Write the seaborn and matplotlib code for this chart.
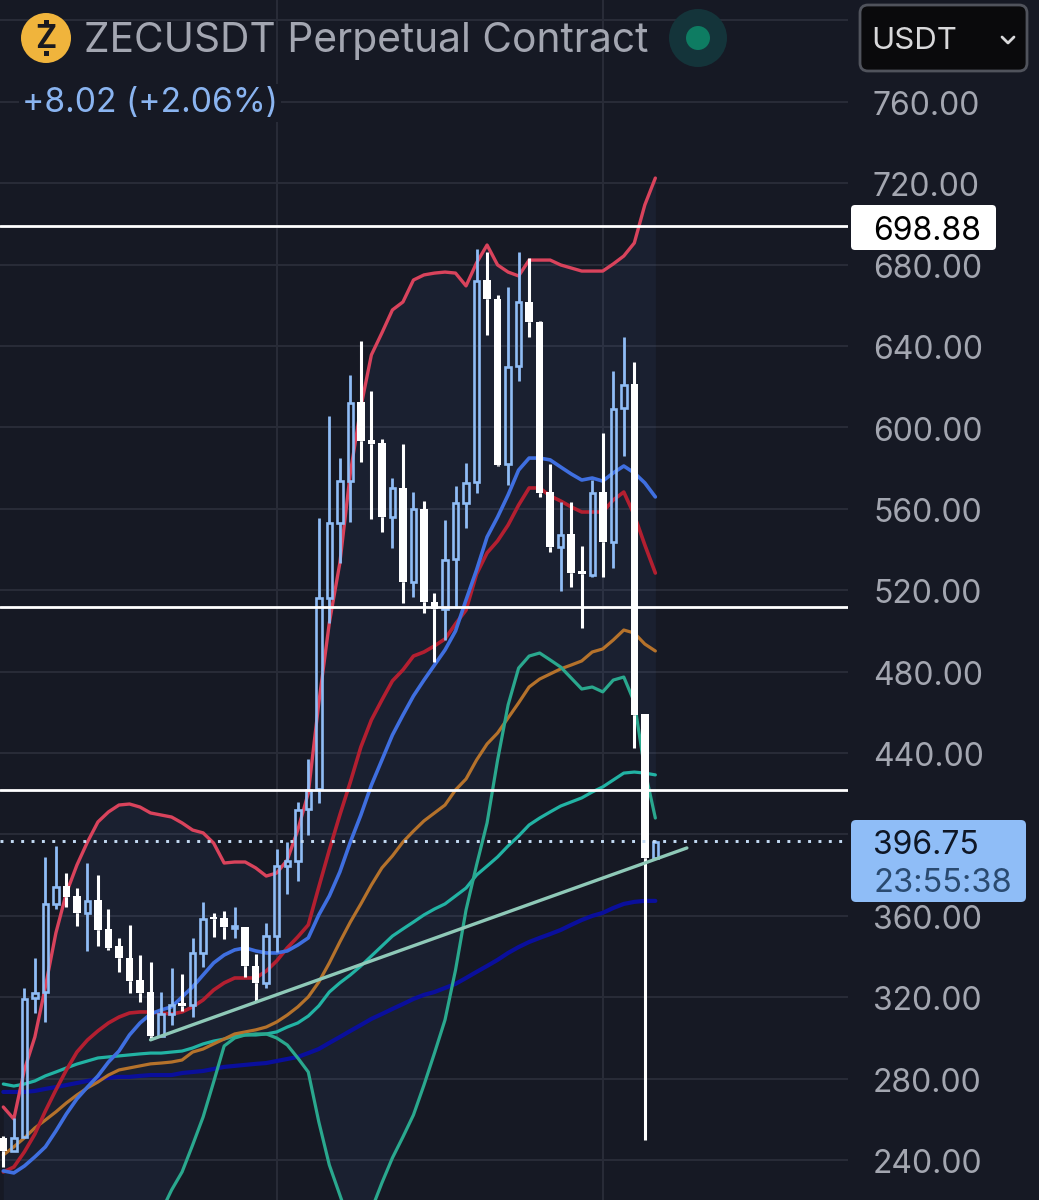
import numpy as np
import seaborn as sns
import matplotlib
matplotlib.use('Agg')
import matplotlib.pyplot as plt
from matplotlib.patches import FancyBboxPatch, Circle, Rectangle
from matplotlib.transforms import ScaledTranslation

# daily candles
opens = [250.8, 244.4, 251.3, 319.6, 322.5, 365.8, 374.6, 369.7, 361.4, 367.7, 353.5, 345.1, 339.2, 328.4, 322.5, 300.9,
         311.7, 317.1, 316.1, 341.7, 359.4, 358.9, 354.0, 354.5, 335.3, 327.0, 350.0, 384.4, 386.9, 412.5, 422.3, 516.1,
         553.0, 573.6, 612.5, 593.8, 592.3, 556.0, 570.2, 524.0, 559.9, 514.2, 510.7, 535.3, 562.8, 573.2, 672.4, 663.1,
         582.0, 630.1, 661.6, 651.8, 568.2, 541.2, 547.6, 529.4, 527.4, 568.2, 543.7, 609.5, 621.3, 459.1, 388.4]
highs = [251.8, 260.6, 324.5, 339.2, 388.9, 394.3, 381.0, 373.6, 385.9, 380.0, 363.3, 349.1, 355.5, 340.7, 337.3, 322.5,
         334.3, 331.4, 349.1, 366.8, 361.4, 362.3, 364.3, 354.5, 341.2, 356.4, 392.8, 396.2, 415.9, 437.0, 555.5, 605.6,
         584.9, 625.7, 642.4, 617.9, 594.3, 575.1, 591.8, 568.2, 563.8, 518.6, 554.5, 571.2, 582.5, 687.6, 686.2, 665.0,
         669.0, 686.2, 683.2, 652.3, 582.0, 563.3, 563.3, 541.7, 574.1, 597.2, 627.7, 644.4, 632.1, 459.1, 397.2]
lows = [236.5, 244.4, 251.3, 312.2, 307.8, 363.3, 364.3, 355.0, 342.7, 345.1, 343.2, 332.4, 322.0, 317.6, 299.4, 300.9,
        306.3, 313.2, 310.2, 334.8, 349.6, 348.6, 349.1, 329.9, 317.6, 324.5, 342.2, 370.7, 377.1, 399.7, 415.4, 503.9,
        533.3, 553.5, 583.0, 555.0, 548.6, 540.7, 513.7, 516.6, 508.8, 484.7, 495.5, 511.2, 550.5, 567.7, 645.4, 581.0,
        571.7, 622.8, 644.4, 565.8, 538.7, 519.6, 521.6, 501.4, 526.5, 526.5, 530.9, 585.9, 442.4, 249.8, 388.4]
closes = [244.4, 250.8, 319.1, 322.0, 365.8, 374.1, 369.2, 361.4, 367.2, 353.0, 344.2, 339.2, 327.9, 322.0, 300.9, 311.7,
          316.1, 315.7, 341.7, 358.4, 358.4, 354.5, 355.0, 335.3, 327.0, 350.0, 384.4, 386.9, 412.0, 421.8, 516.1, 553.0,
          573.6, 612.0, 593.3, 591.8, 556.0, 570.2, 524.0, 559.9, 514.2, 510.7, 534.8, 562.8, 572.7, 671.9, 663.1, 581.5,
          629.7, 661.6, 651.8, 567.7, 541.2, 547.1, 528.4, 527.9, 567.7, 543.7, 609.0, 620.8, 458.6, 388.4, 396.2]

# indicator lines
upper_band = [266.0, 260.1, 284.2, 300.4, 325.0, 351.5, 371.2, 384.9, 396.2, 406.1, 411.0, 414.4, 414.9, 413.4, 410.5, 409.5,
              408.5, 405.6, 402.1, 400.7, 395.7, 385.9, 386.4, 386.4, 383.5, 379.5, 381.0, 387.4, 402.1, 420.3, 464.6, 503.9,
              533.3, 577.6, 610.0, 635.6, 646.4, 657.7, 661.6, 672.4, 674.9, 675.8, 676.3, 675.8, 669.5, 680.8, 689.6, 679.8,
              676.3, 674.4, 682.2, 682.2, 682.2, 679.8, 678.3, 676.8, 676.8, 676.8, 680.3, 684.2, 690.6, 709.3, 722.5]
# lower band only comes into the picture from candle 15 on
lower_start = 15
lower_band = [214.4, 225.2, 234.1, 247.3, 261.1, 278.3, 296.0, 299.9, 301.4, 301.9, 301.9, 299.9, 296.5, 290.1, 283.2, 258.7,
              237.5, 222.8, 208.0, 203.1, 215.4, 228.7, 241.0, 251.3, 262.1, 276.8, 292.5, 308.8, 333.3, 362.8, 384.9, 405.6,
              436.5, 463.6, 481.7, 487.6, 489.1, 485.7, 482.2, 476.8, 471.4, 472.4, 470.0, 475.8, 477.3, 465.0, 431.6, 408.0]
ma_red = [234.1, 236.5, 243.9, 252.7, 264.0, 274.4, 284.2, 293.0, 298.9, 303.4, 307.3, 310.2, 312.2, 312.7, 312.7, 312.2,
          311.7, 312.7, 315.2, 318.6, 323.5, 327.0, 329.4, 329.4, 329.4, 332.8, 337.8, 344.2, 349.6, 355.5, 374.1, 392.3,
          409.5, 425.7, 442.9, 456.2, 466.0, 475.4, 480.8, 487.6, 489.6, 492.6, 496.0, 503.4, 510.2, 527.9, 538.3, 544.2,
          552.0, 561.8, 570.2, 570.2, 566.3, 563.8, 560.9, 558.4, 558.4, 558.4, 564.3, 568.2, 556.9, 542.2, 528.4]
ma_blue = [234.6, 233.6, 237.0, 241.5, 246.4, 254.2, 262.6, 270.0, 275.8, 281.3, 288.1, 293.5, 301.4, 307.3, 311.7, 313.7,
           315.2, 320.1, 325.0, 330.9, 336.8, 340.7, 343.2, 344.2, 342.7, 341.7, 341.7, 342.7, 345.6, 349.1, 360.4, 369.7,
           381.5, 396.2, 409.5, 424.2, 436.5, 448.8, 458.6, 468.0, 475.8, 483.2, 490.6, 499.9, 515.2, 529.9, 546.1, 555.9,
           566.8, 579.0, 584.9, 584.9, 584.0, 580.5, 577.1, 574.1, 575.1, 573.6, 577.6, 581.0, 577.6, 572.7, 565.8]
ma_orange = [242.4, 246.4, 250.8, 255.7, 259.6, 263.6, 268.0, 271.9, 275.4, 278.3, 281.7, 284.2, 285.2, 286.2, 287.2, 287.6,
             288.1, 289.1, 293.0, 294.5, 297.0, 299.4, 301.9, 302.9, 303.9, 305.3, 307.8, 311.2, 315.2, 320.1, 327.4, 336.8,
             347.1, 356.9, 365.8, 375.1, 383.5, 389.4, 396.2, 401.6, 406.6, 410.5, 414.4, 421.8, 427.2, 436.5, 444.4, 449.8,
             457.2, 464.6, 472.4, 476.3, 478.8, 481.3, 483.2, 485.2, 489.6, 491.1, 495.5, 500.4, 498.9, 493.5, 490.1]
ma_cyan = [277.3, 276.3, 277.3, 278.8, 281.3, 283.2, 285.2, 287.1, 288.6, 290.1, 290.6, 291.1, 291.6, 292.1, 292.5, 292.5,
           293.0, 293.5, 295.0, 297.0, 298.4, 299.4, 300.9, 301.4, 301.4, 301.9, 302.9, 305.3, 307.3, 310.7, 315.7, 322.5,
           327.0, 330.9, 335.3, 340.2, 345.1, 350.0, 353.5, 356.9, 360.4, 363.3, 365.8, 369.7, 373.6, 380.0, 384.4, 388.9,
           394.3, 399.2, 404.6, 408.0, 411.0, 413.9, 415.9, 417.9, 420.8, 423.3, 426.7, 430.1, 430.6, 430.1, 429.2]
ma_navy = [273.4, 273.4, 273.4, 273.9, 274.9, 275.8, 276.8, 277.8, 278.8, 279.8, 280.3, 280.8, 280.8, 281.3, 281.7, 281.7,
           281.7, 282.7, 283.2, 283.7, 284.7, 285.7, 286.2, 286.7, 287.2, 287.6, 288.6, 289.6, 290.6, 292.5, 294.5, 297.5,
           300.4, 303.4, 306.3, 309.3, 311.7, 314.2, 316.6, 319.1, 321.1, 322.5, 324.5, 326.5, 329.4, 332.4, 335.3, 338.3,
           341.7, 344.6, 347.1, 349.1, 351.0, 353.0, 355.5, 357.9, 359.9, 361.4, 363.8, 365.8, 366.8, 367.3, 367.3]

# hand drawn levels
levels = [698.88, 511.7, 421.8]
trend_x = [14, 65]
trend_y = [299.0, 393.3]
last_price = 396.75

ticks = list(range(240, 801, 40))
tick_labels = [f'{t}.00' if t not in (400, 800) else '' for t in ticks]
vlines_at = [26, 57]

BG = '#161924'
BLUE = '#8fbcf5'
FONT = 'Inter'

sns.set_theme(style='dark', rc={'axes.facecolor': BG, 'figure.facecolor': BG})
plt.rcParams['font.family'] = [FONT, 'DejaVu Sans']

fig = plt.figure(figsize=(10.39, 12), dpi=100)
ax = fig.add_axes([0, 0, 848 / 1039, 1])
ax.set_xlim(-0.314, 80.32)
ax.set_ylim(220.3, 810)

n = len(opens)
x = np.arange(n)
opens = np.array(opens)
closes = np.array(closes)
highs = np.array(highs)
lows = np.array(lows)

# band shading, below candle 15 the lower band is off the bottom of the chart
lower_full = np.r_[np.full(lower_start, 220.3), lower_band]
ax.fill_between(x, lower_full, upper_band, color='#5b8fe0', alpha=0.065, lw=0, zorder=1)

sns.lineplot(x=x, y=ma_navy, ax=ax, color='#0a0f9c', linewidth=3.0, zorder=2)
sns.lineplot(x=x, y=ma_cyan, ax=ax, color='#22b3a4', linewidth=2.3, zorder=2)
sns.lineplot(x=x, y=ma_orange, ax=ax, color='#b5722b', linewidth=2.3, zorder=2)
sns.lineplot(x=x[lower_start:], y=lower_band, ax=ax, color='#2aa88e', linewidth=2.3, zorder=2)
sns.lineplot(x=x, y=ma_red, ax=ax, color='#b31f30', linewidth=2.6, zorder=2)
sns.lineplot(x=x, y=ma_blue, ax=ax, color='#3f6fe0', linewidth=2.6, zorder=2)
sns.lineplot(x=x, y=upper_band, ax=ax, color='#d9435c', linewidth=2.4, zorder=2)

# candles, white filled for down days, blue hollow for up days
up = closes >= opens
top = np.maximum(opens, closes)
bot = np.minimum(opens, closes)
ax.vlines(x[~up], bot[~up], highs[~up], color='white', lw=2.2, zorder=3)
ax.vlines(x[~up], lows[~up], bot[~up], color='white', lw=2.2, zorder=3)
ax.bar(x[~up], top[~up] - bot[~up], bottom=bot[~up], width=0.72, color='white', lw=0, zorder=3)
ax.vlines(x[up], top[up], highs[up], color=BLUE, lw=2.0, zorder=3)
ax.vlines(x[up], lows[up], bot[up], color=BLUE, lw=2.0, zorder=3)
ax.bar(x[up], top[up] - bot[up], bottom=bot[up], width=0.52, facecolor='none', edgecolor=BLUE, lw=1.9, zorder=3)

for lvl in levels:
    ax.axhline(lvl, color='white', lw=2.0, zorder=4)
ax.axhline(last_price, color='#c5dcf5', lw=2.1, ls=(0, (1, 2.55)), zorder=4)
sns.lineplot(x=trend_x, y=trend_y, ax=ax, color='#8fc9b8', linewidth=2.4, zorder=5)

ax.set_yticks(ticks)
ax.set_yticklabels(tick_labels)
ax.set_xticks(vlines_at)
ax.set_xticklabels([])
ax.yaxis.tick_right()
ax.tick_params(axis='y', length=0, pad=18, labelsize=23, labelcolor='#a3a6b0')
ax.tick_params(axis='x', length=0)
ax.grid(True, color='#282b37', lw=1.5, zorder=0)
ax.set_axisbelow(True)
ax.set_xlabel('')
ax.set_ylabel('')
for s in ax.spines.values():
    s.set_visible(False)
# nudge tick labels down a pixel to sit where the app draws them
for lab in ax.get_yticklabels():
    lab.set_transform(lab.get_transform() + ScaledTranslation(0, -1.2 / 100, fig.dpi_scale_trans))

# header and price boxes live on a pixel sized overlay
ui = fig.add_axes([0, 0, 1, 1])
ui.set_xlim(0, 1039)
ui.set_ylim(1200, 0)
ui.axis('off')


def box(x0, y0, x1, y1, face, edge='none', lw=0, r=4):
    ui.add_patch(FancyBboxPatch((x0 + r, y0 + r), x1 - x0 - 2 * r, y1 - y0 - 2 * r,
                                boxstyle=f'round,pad={r},rounding_size={r}', fc=face, ec=edge, lw=lw))


# zcash coin
ui.add_patch(Circle((46, 38), 25, fc='#f0b43c', lw=0))
ui.text(46, 40, 'Z', color='#1a1a20', fontsize=23, fontweight='bold', ha='center', va='center')
ui.add_patch(Rectangle((43.5, 20), 5, 5, fc='#1a1a20', lw=0))
ui.add_patch(Rectangle((43.5, 51), 5, 5, fc='#1a1a20', lw=0))

ui.text(84, 41.5, 'ZECUSDT Perpetual Contract', color='#a3a6b1', fontsize=29.3, va='center', ha='left')
ui.text(22, 103, '+8.02 (+2.06%)', color='#8ab4f0', fontsize=24.2, va='center', ha='left',
        bbox=dict(fc=BG, ec='none', pad=2))

# market status dot
ui.add_patch(Circle((698, 38), 29, fc='#14343a', lw=0))
ui.add_patch(Circle((698, 38), 12, fc='#0e7c62', lw=0))

# unit selector
box(860, 5, 1027, 71, '#0a0a0c', '#50535c', 2, r=8)
ui.text(871, 41, 'USDT', color='#d8d8da', fontsize=22.5, va='center', ha='left')
ui.plot([1002, 1008, 1014], [37, 43, 37], color='#d8d8da', lw=2)

box(851, 205, 996, 250, 'white', r=4)
ui.text(873, 231, '698.88', color='black', fontsize=23, va='center', ha='left')

box(851, 820, 1026, 902, '#8fbdf7', r=5)
ui.text(873, 846, '396.75', color='#0f1726', fontsize=23, va='center', ha='left')
ui.text(873, 883, '23:55:38', color='#2a4a70', fontsize=23.5, va='center', ha='left')

fig.savefig('out.png', dpi=100, facecolor=BG)
